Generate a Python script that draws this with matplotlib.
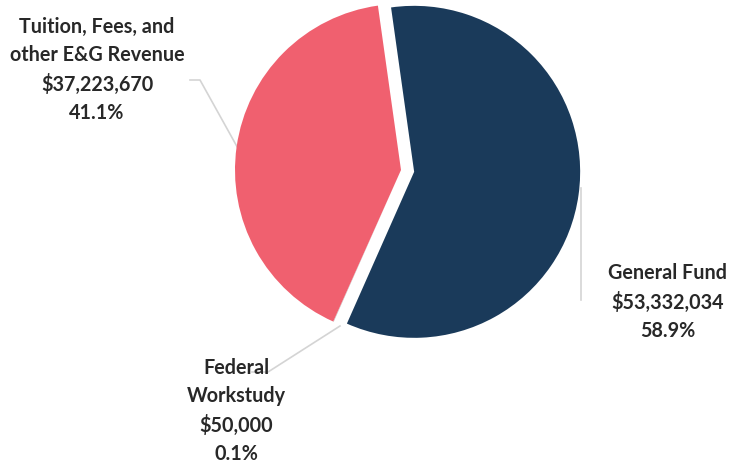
import matplotlib
matplotlib.use("Agg")
import matplotlib.pyplot as plt

categories = ["General Fund", "Federal\nWorkstudy", "Tuition, Fees, and\nother E&G Revenue"]
values = [53332034, 50000, 37223670]
percents = ["58.9%", "0.1%", "41.1%"]
colors = ["#1a3a5a", "#bfbfbf", "#f0606f"]
explode = [0.08, 0.0, 0.0]

W, H = 731, 463
fig = plt.figure(figsize=(W / 100, H / 100), dpi=100)

# background axes in pixel coordinates for labels and leader lines
ax = fig.add_axes([0, 0, 1, 1])
ax.set_xlim(0, W)
ax.set_ylim(0, H)
ax.axis("off")

def Y(py):
    return H - py

# pie axes placed so the pie centre is at (cx, cy) px with radius R px
cx, cy, R = 401, 170, 166
pad = 1.3
pax = fig.add_axes([(cx - pad * R) / W, (H - cy - pad * R) / H, 2 * pad * R / W, 2 * pad * R / H])
pax.pie(values, colors=colors, explode=explode, startangle=98, counterclock=False,
        radius=1, wedgeprops=dict(linewidth=0))
pax.set_xlim(-pad, pad)
pax.set_ylim(-pad, pad)
pax.axis("off")

txt_color = "#282828"
font = dict(family=["Lato", "DejaVu Sans"], fontweight="bold", fontsize=14.2,
            color=txt_color, ha="center", va="center", linespacing=1.5)

def label(i, x, py):
    s = categories[i] + "\n" + "${:,}".format(values[i]) + "\n" + percents[i]
    ax.text(x, Y(py), s, **font)

label(2, 97, 70)
label(0, 668, 302)
label(1, 236, 411)

lc = "#d4d4d4"
ax.plot([190, 200, 240], [Y(80), Y(80), Y(152)], color=lc, lw=1.2)
ax.plot([581, 581], [Y(188), Y(300)], color=lc, lw=1.2)
ax.plot([340, 268, 252], [Y(326), Y(372), Y(372)], color=lc, lw=1.2)

fig.savefig("out.png", dpi=100, facecolor="white")
